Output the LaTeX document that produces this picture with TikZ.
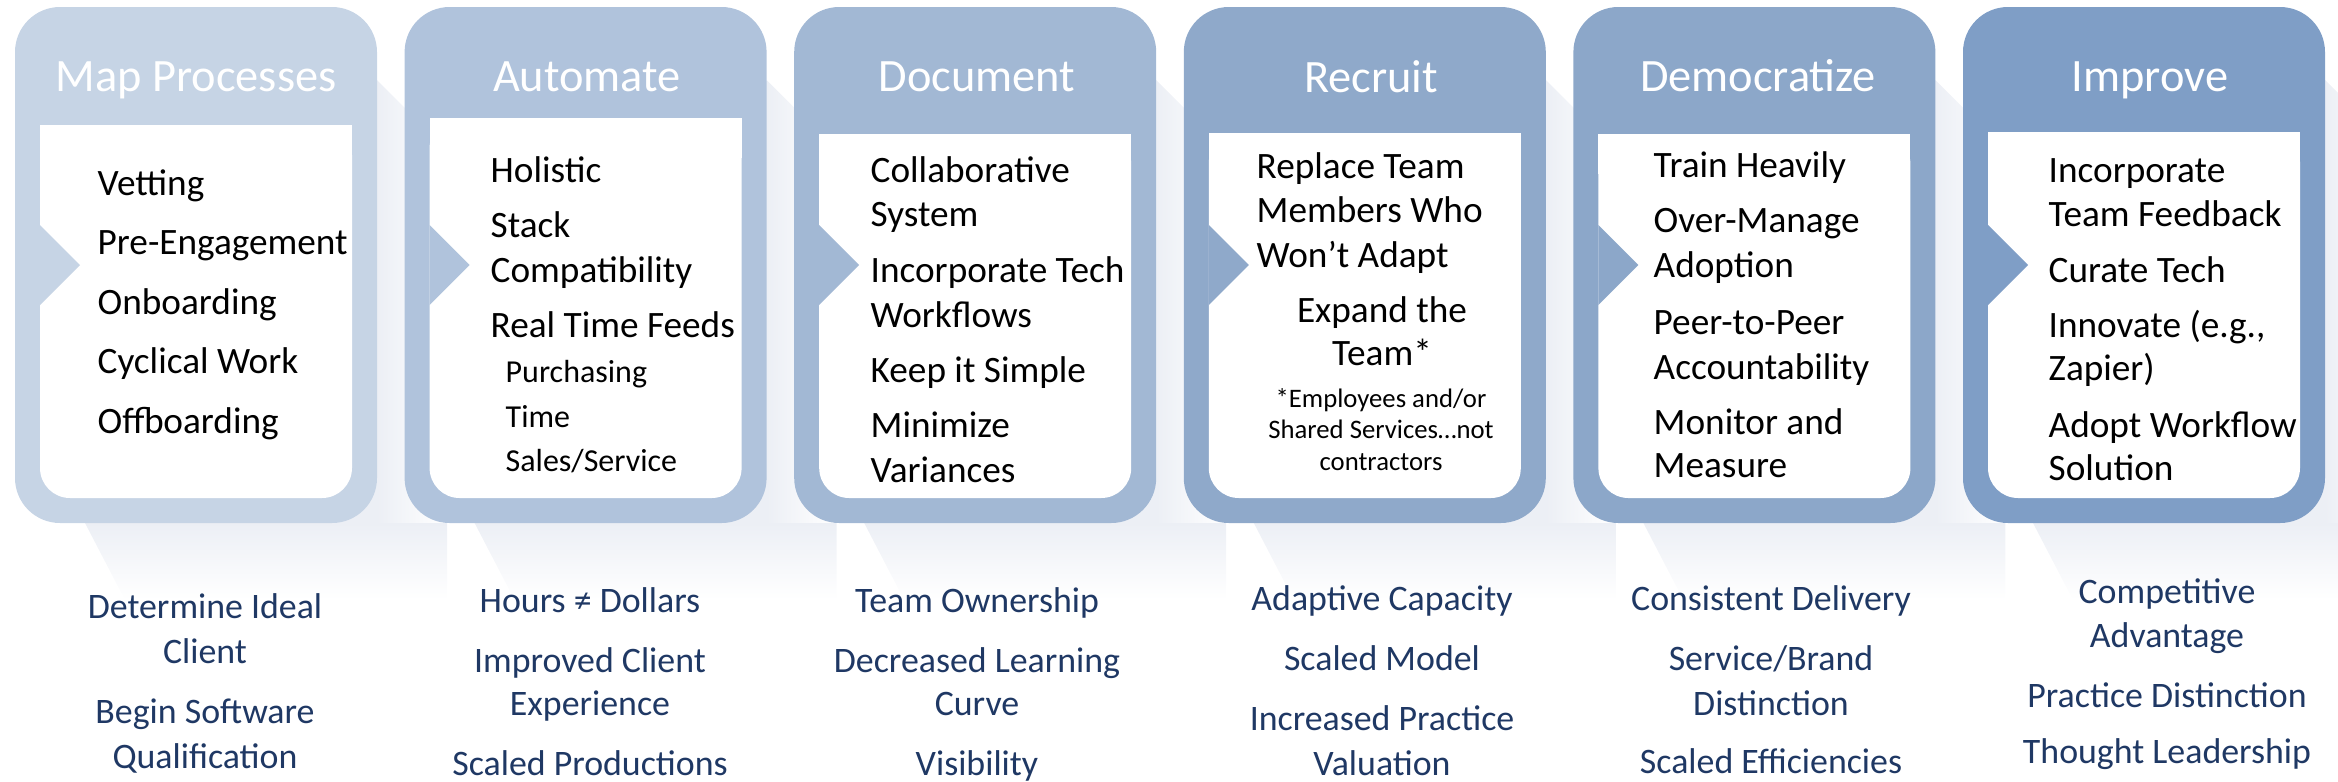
\documentclass[tikz,border=0pt]{standalone}
\usepackage{fontspec}
\setmainfont{Carlito}
\definecolor{stepA}{HTML}{C6D4E5}
\definecolor{stepB}{HTML}{B0C3DC}
\definecolor{stepC}{HTML}{A2B8D4}
\definecolor{stepD}{HTML}{8FA9CA}
\definecolor{stepE}{HTML}{8CA7C9}
\definecolor{stepF}{HTML}{7F9EC6}
\definecolor{navy}{HTML}{1F3864}
\definecolor{lightshadow}{HTML}{ECEFF5}
\tikzset{
 headtxt/.style={white, font=\fontsize{13.2}{15}\selectfont, inner sep=0, anchor=base},
 itemtxt/.style={font=\fontsize{10.6}{12.7}\selectfont, inner sep=0, anchor=base west},
 subtxt/.style={itemtxt, font=\fontsize{9.1}{11}\selectfont},
 notetxt/.style={font=\fontsize{7.6}{9}\selectfont, inner sep=0, anchor=base},
 gaintxt/.style={navy, font=\fontsize{10.2}{12}\selectfont, inner sep=0, anchor=base}
}
\begin{document}
\begin{tikzpicture}[x=0.1mm, y=-0.1mm, line join=round, line cap=round]
 \def\pw{362} \def\pitch{389.6}
 \useasboundingbox (0,0) rectangle (2338,781);
 % long shadows behind the cards
 \foreach \i in {0,...,5}{
  \pgfmathsetmacro\px{15+\pitch*\i}
  \pgfmathsetmacro\pr{\px+\pw}
  \fill[lightshadow] (\px+70,400) rectangle (\pr,523);
  \shade[left color=lightshadow, right color=white] (\pr,80) -- (\pr+70,150) -- (\pr+70,523) -- (\pr,523) -- cycle;
  \shade[top color=lightshadow, bottom color=white] (\px+70,523) -- (\pr+70,523) -- (\pr+70,600) -- (\px+110,600) -- cycle;
 }
 % cards with white body and notch
 \foreach \i/\col/\wt in {0/stepA/125, 1/stepB/118, 2/stepC/134, 3/stepD/133, 4/stepE/134, 5/stepF/132}{
  \pgfmathsetmacro\px{15+\pitch*\i}
  \fill[\col, rounded corners=4.5mm] (\px,7) rectangle ++(\pw,516);
  \fill[white, rounded corners=3mm] (\px+25,\wt) rectangle (\px+\pw-25,498);
  \fill[white] (\px+25,\wt) rectangle (\px+\pw-25,\wt+40);
  \fill[\col] (\px+25,225) -- (\px+65,265) -- (\px+25,305) -- cycle;
 }
 \path
 (196,91) node[headtxt] (tmap) {Map Processes}
 (587,91) node[headtxt] (tauto) {Automate}
 (977,91) node[headtxt] (tdoc) {Document}
 (1371,92) node[headtxt] (trec) {Recruit}
 (1758,91) node[headtxt] (tdem) {Democratize}
 (2150,91) node[headtxt] (timp) {Improve};
 % card contents
 \foreach \y/\t [count=\n] in {195/Vetting, 254/Pre-Engagement, 314/Onboarding, 373/Cyclical Work, 433/Offboarding}
  \node[itemtxt] (map\n) at (97,\y) {\t};
 \foreach \y/\t [count=\n] in {182/Holistic, 237/Stack, 282/Compatibility, 337/Real Time Feeds}
  \node[itemtxt] (auto\n) at (490,\y) {\t};
 \foreach \y/\t [count=\n] in {382/Purchasing, 427/Time, 471/{Sales/Service}}
  \node[subtxt] (feed\n) at (505,\y) {\t};
 \foreach \y/\t [count=\n] in {182/Collaborative, 226/System, 282/Incorporate Tech, 327/Workflows, 382/Keep it Simple, 437/Minimize, 482/Variances}
  \node[itemtxt] (doc\n) at (870,\y) {\t};
 \foreach \y/\t [count=\n] in {178/Replace Team, 222/Members Who, 267/Won’t Adapt}
  \node[itemtxt] (rec\n) at (1256,\y) {\t};
 \path
 (1382,322) node[itemtxt, anchor=base] (exp1) {Expand the}
 (1382,365) node[itemtxt, anchor=base] (exp2) {Team*};
 \foreach \y/\t [count=\n] in {407/{*Employees and/or}, 438/Shared Services…not, 470/contractors}
  \node[notetxt] (note\n) at (1381,\y) {\t};
 \foreach \y/\t [count=\n] in {177/Train Heavily, 232/Over-Manage, 277/Adoption, 334/Peer-to-Peer, 379/Accountability, 434/Monitor and, 477/Measure}
  \node[itemtxt] (dem\n) at (1653,\y) {\t};
 \foreach \y/\t [count=\n] in {182/Incorporate, 226/Team Feedback, 282/Curate Tech, 337/{Innovate (e.g.,}, 380/Zapier), 437/Adopt Workflow, 480/Solution}
  \node[itemtxt] (imp\n) at (2048,\y) {\t};
 % outcomes below the cards
 \foreach \y/\t [count=\n] in {618/Determine Ideal, 663/Client, 723/Begin Software, 768/Qualification}
  \node[gaintxt] (gmap\n) at (205,\y) {\t};
 \foreach \y/\t [count=\n] in {612/Hours ≠ Dollars, 672/Improved Client, 715/Experience, 775/Scaled Productions}
  \node[gaintxt] (gauto\n) at (590,\y) {\t};
 \foreach \y/\t [count=\n] in {612/Team Ownership, 672/Decreased Learning, 715/Curve, 775/Visibility}
  \node[gaintxt] (gdoc\n) at (977,\y) {\t};
 \foreach \y/\t [count=\n] in {610/Adaptive Capacity, 670/Scaled Model, 730/Increased Practice, 775/Valuation}
  \node[gaintxt] (grec\n) at (1382,\y) {\t};
 \foreach \y/\t [count=\n] in {610/Consistent Delivery, 670/{Service/Brand}, 715/Distinction, 773/Scaled Efficiencies}
  \node[gaintxt] (gdem\n) at (1771,\y) {\t};
 \foreach \y/\t [count=\n] in {603/Competitive, 647/Advantage, 707/Practice Distinction, 763/Thought Leadership}
  \node[gaintxt] (gimp\n) at (2167,\y) {\t};
\end{tikzpicture}
\end{document}
